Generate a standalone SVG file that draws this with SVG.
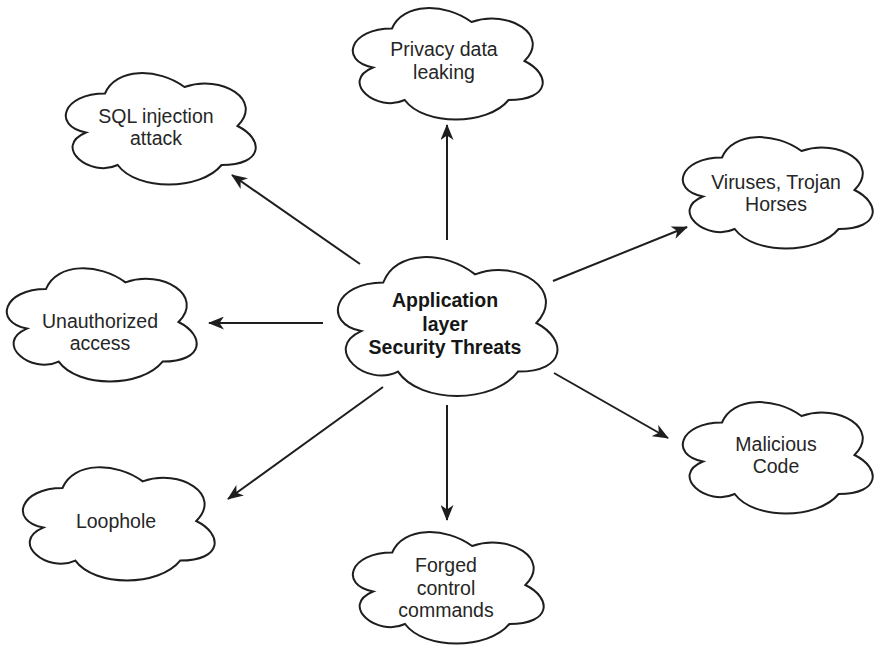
<svg xmlns="http://www.w3.org/2000/svg" xmlns:xlink="http://www.w3.org/1999/xlink" width="876" height="647" viewBox="0 0 876 647">
  <style>
    .lbl { font-family: "Liberation Sans", Arial, sans-serif; font-size: 19.5px; fill: #262626; text-anchor: middle; }
    .main { font-weight: bold; fill: #161616; }
    .edge { stroke: #1e1e1e; stroke-width: 2; fill: none; marker-end: url(#arrow); }
  </style>
  <defs>
    <!-- cloud outline drawn in a 100x100 unit box, scaled per node -->
    <path id="cloud" d="M25,25 C5,25 0,50 16,55 C0,66 18,90 31,80 C40,100 70,100 80,80 C100,80 100,60 87.5,50 C100,30 80,10 62.5,20 C50,5 30,5 25,25 Z" fill="#ffffff" stroke="#1e1e1e" stroke-width="2" vector-effect="non-scaling-stroke"/>
    <marker id="arrow" viewBox="0 0 16 13" refX="15" refY="6.5" markerWidth="16" markerHeight="13" markerUnits="userSpaceOnUse" orient="auto">
      <path d="M0,0 L16,6.5 L0,13 L4.5,6.5 Z" fill="#1e1e1e"/>
    </marker>
  </defs>
  <rect width="876" height="647" fill="#ffffff"/>

  <g id="connectors">
    <line class="edge" x1="447" y1="240" x2="447" y2="125"/>
    <line class="edge" x1="360" y1="264" x2="232" y2="175"/>
    <line class="edge" x1="553" y1="281" x2="687" y2="227"/>
    <line class="edge" x1="323" y1="323" x2="209" y2="323"/>
    <line class="edge" x1="554" y1="373" x2="668" y2="438"/>
    <line class="edge" x1="383" y1="387" x2="228" y2="499"/>
    <line class="edge" x1="447" y1="405" x2="447" y2="520"/>
  </g>

  <g id="center">
    <use xlink:href="#cloud" transform="translate(322,242) scale(2.45,1.62)"/>
    <text class="lbl main" x="445" y="307">Application</text>
    <text class="lbl main" x="445" y="330.5">layer</text>
    <text class="lbl main" x="445" y="354">Security Threats</text>
  </g>

  <g id="privacy">
    <use xlink:href="#cloud" transform="translate(339,-4) scale(2.12,1.3)"/>
    <text class="lbl" x="444" y="56">Privacy data</text>
    <text class="lbl" x="444" y="79">leaking</text>
  </g>

  <g id="sql">
    <use xlink:href="#cloud" transform="translate(52,61) scale(2.12,1.3)"/>
    <text class="lbl" x="156" y="123">SQL injection</text>
    <text class="lbl" x="156" y="145">attack</text>
  </g>

  <g id="viruses">
    <use xlink:href="#cloud" transform="translate(669,125) scale(2.12,1.3)"/>
    <text class="lbl" x="776" y="189">Viruses, Trojan</text>
    <text class="lbl" x="776" y="211">Horses</text>
  </g>

  <g id="unauthorized">
    <use xlink:href="#cloud" transform="translate(-7,256) scale(2.12,1.32)"/>
    <text class="lbl" x="100" y="328">Unauthorized</text>
    <text class="lbl" x="100" y="350">access</text>
  </g>

  <g id="malicious">
    <use xlink:href="#cloud" transform="translate(669,390) scale(2.12,1.3)"/>
    <text class="lbl" x="776" y="451">Malicious</text>
    <text class="lbl" x="776" y="473">Code</text>
  </g>

  <g id="loophole">
    <use xlink:href="#cloud" transform="translate(9,455) scale(2.14,1.32)"/>
    <text class="lbl" x="116" y="528">Loophole</text>
  </g>

  <g id="forged">
    <use xlink:href="#cloud" transform="translate(339,520) scale(2.13,1.3)"/>
    <text class="lbl" x="446" y="572">Forged</text>
    <text class="lbl" x="446" y="594.5">control</text>
    <text class="lbl" x="446" y="617">commands</text>
  </g>
</svg>
